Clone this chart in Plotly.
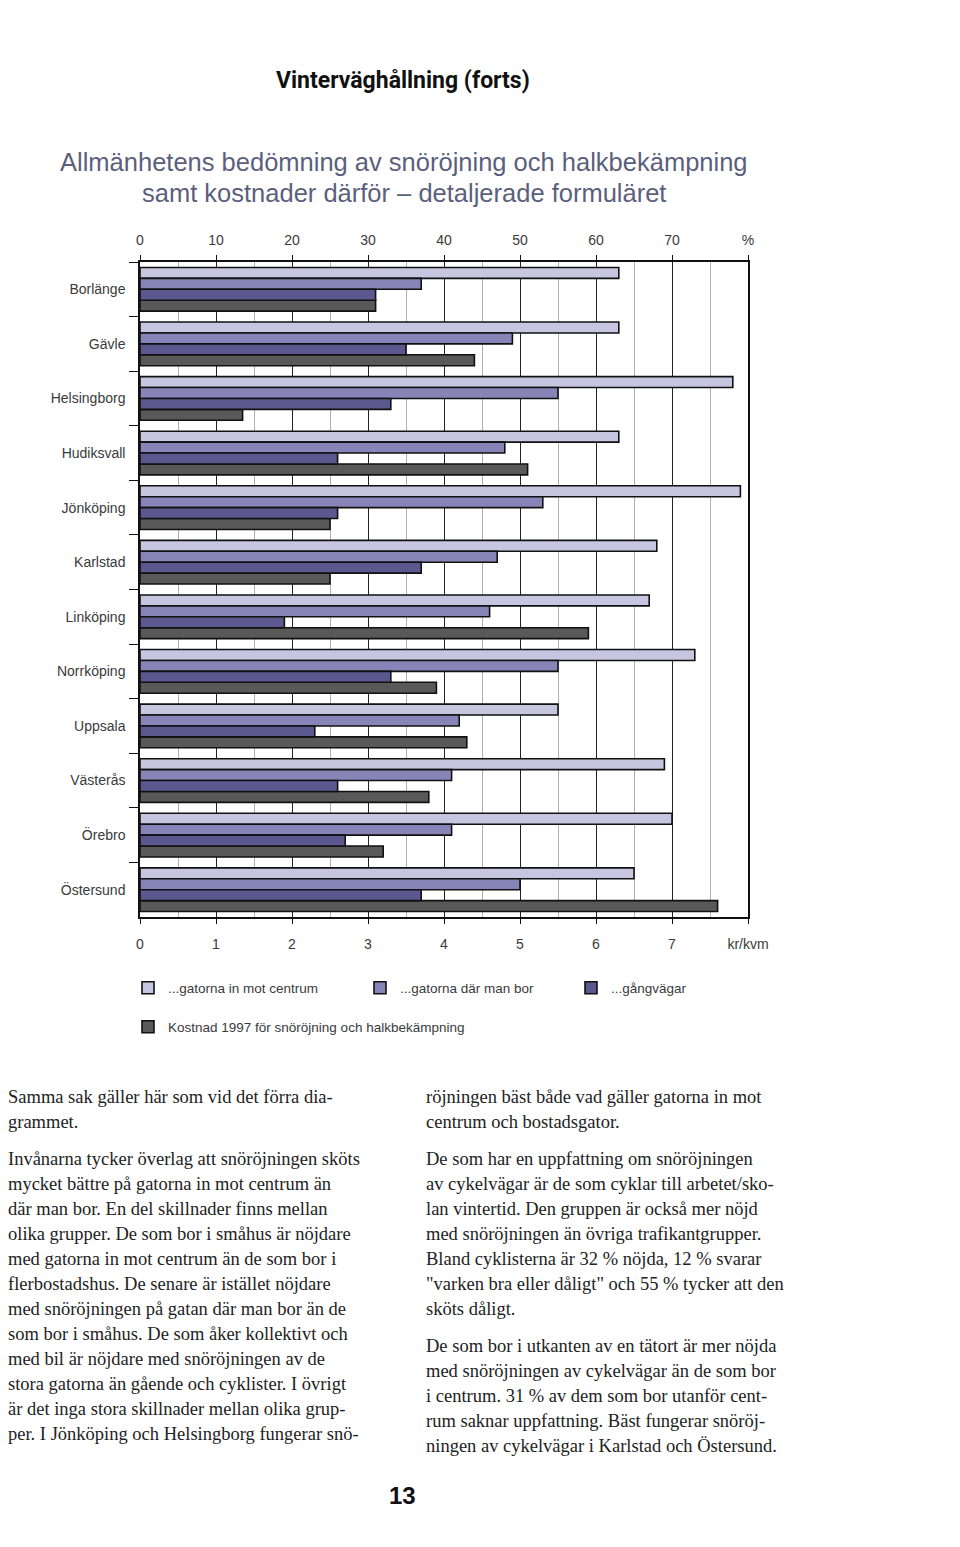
import plotly.graph_objects as go

# ---------------- data ----------------
cities = ["Borlänge", "Gävle", "Helsingborg", "Hudiksvall", "Jönköping", "Karlstad",
          "Linköping", "Norrköping", "Uppsala", "Västerås", "Örebro", "Östersund"]
centrum = [63, 63, 78, 63, 79, 68, 67, 73, 55, 69, 70, 65]          # %
bostad = [37, 49, 55, 48, 53, 47, 46, 55, 42, 41, 41, 50]           # %
gangvagar = [31, 35, 33, 26, 26, 37, 19, 33, 23, 26, 27, 37]         # %
kostnad = [3.1, 4.4, 1.35, 5.1, 2.5, 2.5, 5.9, 3.9, 4.3, 3.8, 3.2, 7.6]  # kr/kvm

pct_ticks = [0, 10, 20, 30, 40, 50, 60, 70, 80]
pct_labels = ["0", "10", "20", "30", "40", "50", "60", "70", "%"]
kr_ticks = [0, 1, 2, 3, 4, 5, 6, 7, 8]
kr_labels = ["0", "1", "2", "3", "4", "5", "6", "7", "kr/kvm"]

names = ["...gatorna in mot centrum", "...gatorna där man bor", "...gångvägar",
         "Kostnad 1997 för snöröjning och halkbekämpning"]

title = "Vinterväghållning (forts)"
subtitle = ["Allmänhetens bedömning av snöröjning och halkbekämpning",
            "samt kostnader därför – detaljerade formuläret"]

left_col = [
    ["Samma sak gäller här som vid det förra dia-", "grammet."],
    ["Invånarna tycker överlag att snöröjningen sköts",
     "mycket bättre på gatorna in mot centrum än",
     "där man bor. En del skillnader finns mellan",
     "olika grupper. De som bor i småhus är nöjdare",
     "med gatorna in mot centrum än de som bor i",
     "flerbostadshus. De senare är istället nöjdare",
     "med snöröjningen på gatan där man bor än de",
     "som bor i småhus. De som åker kollektivt och",
     "med bil är nöjdare med snöröjningen av de",
     "stora gatorna än gående och cyklister. I övrigt",
     "är det inga stora skillnader mellan olika grup-",
     "per. I Jönköping och Helsingborg fungerar snö-"],
]
right_col = [
    ["röjningen bäst både vad gäller gatorna in mot", "centrum och bostadsgator."],
    ["De som har en uppfattning om snöröjningen",
     "av cykelvägar är de som cyklar till arbetet/sko-",
     "lan vintertid. Den gruppen är också mer nöjd",
     "med snöröjningen än övriga trafikantgrupper.",
     "Bland cyklisterna är 32 % nöjda, 12 % svarar",
     "\"varken bra eller dåligt\" och 55 % tycker att den",
     "sköts dåligt."],
    ["De som bor i utkanten av en tätort är mer nöjda",
     "med snöröjningen av cykelvägar än de som bor",
     "i centrum. 31 % av dem som bor utanför cent-",
     "rum saknar uppfattning. Bäst fungerar snöröj-",
     "ningen av cykelvägar i Karlstad och Östersund."],
]
page_no = "13"

# ---------------- layout geometry (page pixels) ----------------
OFF = 8  # default body margin of the html page
W, H = 960 - OFF, 1547 - OFF
PL, PR, PT, PB = 140, 748, 262, 917
pw, ph = PR - PL, PB - PT


def px(x):
    return (x - PL) / pw


def py(y):
    return (PB - y) / ph


colors = ["#c6c6e0", "#8785b8", "#5a588f", "#595959"]
outline = dict(color="#111111", width=1.6)
bw = 0.2
offsets = [-0.4, -0.2, 0.0, 0.2]
sans = "Liberation Sans, Arial, sans-serif"
serif = "Liberation Serif, Times New Roman, serif"

fig = go.Figure()
series = [centrum, bostad, gangvagar]
legend_ids = ["legend", "legend2", "legend3", "legend4"]
for i, vals in enumerate(series):
    fig.add_trace(go.Bar(
        y=cities, x=vals, orientation="h", name=names[i],
        xaxis="x2", yaxis="y", width=bw, offset=offsets[i],
        marker=dict(color=colors[i], line=outline),
        legend=legend_ids[i],
        hovertemplate="%{y}: %{x} %<extra>" + names[i] + "</extra>",
    ))
fig.add_trace(go.Bar(
    y=cities, x=kostnad, orientation="h", name=names[3],
    xaxis="x", yaxis="y", width=bw, offset=offsets[3],
    marker=dict(color=colors[3], line=outline),
    legend="legend4",
    hovertemplate="%{y}: %{x} kr/kvm<extra></extra>",
))

tickfont = dict(family=sans, size=14, color="#3a3a3a")

fig.update_layout(
    width=W, height=H,
    margin=dict(l=PL - OFF, r=960 - PR, t=PT - OFF, b=1547 - PB),
    paper_bgcolor="white", plot_bgcolor="white",
    barmode="overlay",
    showlegend=True,
    xaxis=dict(
        range=[0, 8], tickvals=kr_ticks, ticktext=kr_labels,
        side="bottom", showline=True, linecolor="#111", linewidth=1.5,
        ticks="outside", ticklen=5, tickcolor="#111", ticklabelstandoff=8,
        showgrid=True, gridcolor="#222", gridwidth=1,
        minor=dict(dtick=0.5, showgrid=True, gridcolor="#b0b0b0", gridwidth=1),
        zeroline=False, tickfont=tickfont, fixedrange=True,
    ),
    xaxis2=dict(
        range=[0, 80], tickvals=pct_ticks, ticktext=pct_labels,
        side="top", overlaying="x", showline=True, linecolor="#111", linewidth=1.5,
        ticks="outside", ticklen=5, tickcolor="#111", ticklabelstandoff=5,
        showgrid=False, zeroline=False, tickfont=tickfont, fixedrange=True,
    ),
    yaxis=dict(
        categoryorder="array", categoryarray=cities, autorange="reversed",
        tickson="boundaries", ticks="outside", ticklen=9, tickcolor="#111",
        ticklabelstandoff=10,
        showline=True, mirror=True, linecolor="#111", linewidth=1.5,
        showgrid=False, zeroline=False,
        tickfont=dict(family=sans, size=14, color="#3a3a3a"), fixedrange=True,
    ),
)

leg_font = dict(family=sans, size=13.5, color="#3a3a3a")
leg_pos = [(128, 988), (360, 988), (571, 988), (128, 1027)]
for lid, (lx, ly) in zip(legend_ids, leg_pos):
    fig.update_layout({lid: dict(
        x=px(lx), y=py(ly), xanchor="left", yanchor="middle",
        orientation="h", font=leg_font, bgcolor="rgba(0,0,0,0)",
        borderwidth=0, itemclick=False, itemdoubleclick=False,
    )})

ann = []
ann.append(dict(text="<b>" + title + "</b>", x=px(403), y=py(80), xref="paper", yref="paper",
                xanchor="center", yanchor="middle", showarrow=False,
                font=dict(family="Roboto, Liberation Sans, sans-serif", size=23, color="#111")))
for k, line in enumerate(subtitle):
    ann.append(dict(text=line, x=px(404), y=py(162 + 31 * k), xref="paper", yref="paper",
                    xanchor="center", yanchor="middle", showarrow=False,
                    font=dict(family=sans, size=25.5, color="#5b5f7d")))


def add_column(col, x0, y0, line_h=25, para_gap=12):
    y = y0
    for para in col:
        for line in para:
            ann.append(dict(text=line, x=px(x0), y=py(y), xref="paper", yref="paper",
                            xanchor="left", yanchor="middle", showarrow=False,
                            font=dict(family=serif, size=18.5, color="#222")))
            y += line_h
        y += para_gap


add_column(left_col, 6, 1097)
add_column(right_col, 424, 1097)

ann.append(dict(text="<b>" + page_no + "</b>", x=px(402), y=py(1495), xref="paper", yref="paper",
                xanchor="center", yanchor="middle", showarrow=False,
                font=dict(family=sans, size=24, color="#111")))

fig.update_layout(annotations=ann)

fig.write_html("out.html")
